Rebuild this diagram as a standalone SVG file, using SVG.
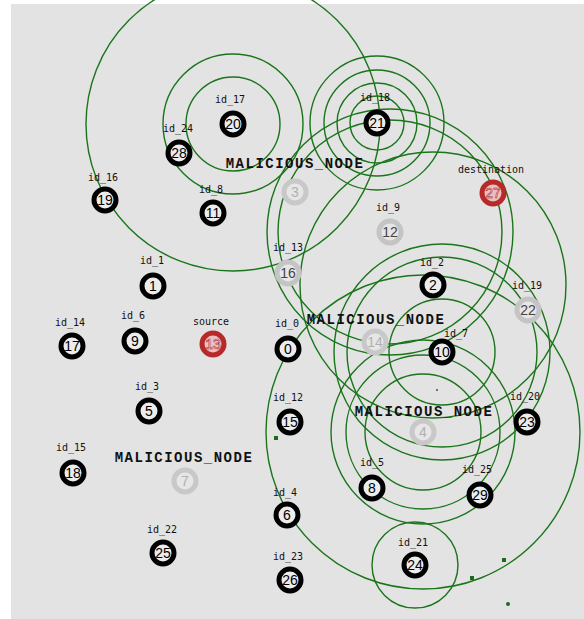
<svg xmlns="http://www.w3.org/2000/svg" width="584" height="619" viewBox="0 0 584 619">
<defs>
<style>
.bg{fill:#e3e3e3}
.rng{fill:none;stroke:#1a751a;stroke-width:1.4}
.pk{fill:#1d6a1d}
.n circle{fill:#ececec;stroke:#000;stroke-width:5}
.n text.v{font-family:"Liberation Sans",Arial,sans-serif;font-size:14px;fill:#000;text-anchor:middle}
.g circle{fill:#e6e6e6;stroke:#c4c4c4;stroke-width:5}
.g text.v{fill:#444}
.m circle{fill:#e6e6e6;stroke:#c8c8c8;stroke-width:5}
.m text.v{fill:#b0b0b0}
.r circle{fill:#e8c0c0;stroke:#b82a2a;stroke-width:5}
.r text.v{fill:#fbe8e8;stroke:#b82a2a;stroke-width:0.6}
.lb{font-family:"DejaVu Sans Mono",monospace;font-size:10px;fill:#111;text-anchor:middle}
.ml{font-family:"Liberation Mono",monospace;font-size:14px;font-weight:bold;letter-spacing:1.5px;fill:#111;text-anchor:middle}
</style>
</defs>
<rect x="0" y="0" width="584" height="619" fill="#ffffff"/>
<rect class="bg" x="11" y="4" width="573" height="615"/>

<g id="connectors">
<circle class="rng" cx="233" cy="124" r="47"/>
<circle class="rng" cx="233" cy="124" r="70"/>
<circle class="rng" cx="233" cy="124" r="147"/>
<circle class="rng" cx="377" cy="123" r="27"/>
<circle class="rng" cx="377" cy="123" r="40"/>
<circle class="rng" cx="377" cy="123" r="53"/>
<circle class="rng" cx="377" cy="123" r="67"/>
<circle class="rng" cx="390" cy="232" r="112"/>
<circle class="rng" cx="390" cy="232" r="123"/>
<circle class="rng" cx="433" cy="285" r="133"/>
<circle class="rng" cx="442" cy="352" r="53"/>
<circle class="rng" cx="442" cy="352" r="95"/>
<circle class="rng" cx="442" cy="352" r="108"/>
<circle class="rng" cx="423" cy="432" r="58"/>
<circle class="rng" cx="423" cy="432" r="77"/>
<circle class="rng" cx="423" cy="432" r="92"/>
<circle class="rng" cx="423" cy="432" r="157"/>
<circle class="rng" cx="415" cy="565" r="43"/>
<rect class="pk" x="274" y="436" width="4" height="4"/>
<rect class="pk" x="470" y="576" width="4" height="4"/>
<rect class="pk" x="502" y="558" width="4" height="4"/>
<circle class="pk" cx="508" cy="604" r="2"/>
<circle class="pk" cx="437" cy="390" r="1"/>
</g>

<g id="node0" class="n"><text class="lb" x="287" y="327">id_0</text><circle cx="288" cy="349" r="11"/><text class="v" x="288" y="354">0</text></g>
<g id="node1" class="n"><text class="lb" x="152" y="264">id_1</text><circle cx="153" cy="286" r="11"/><text class="v" x="153" y="291">1</text></g>
<g id="node2" class="n"><text class="lb" x="432" y="266">id_2</text><circle cx="433" cy="285" r="11"/><text class="v" x="433" y="290">2</text></g>
<g id="node3" class="n m"><text class="ml" x="295" y="168">MALICIOUS_NODE</text><circle cx="295" cy="192" r="11"/><text class="v" x="295" y="197">3</text></g>
<g id="node4" class="n m"><circle cx="423" cy="432" r="11"/><text class="v" x="423" y="437">4</text><text class="ml" x="424" y="416">MALICIOUS_NODE</text></g>
<g id="node5" class="n"><text class="lb" x="147" y="390">id_3</text><circle cx="149" cy="411" r="11"/><text class="v" x="149" y="416">5</text></g>
<g id="node6" class="n"><text class="lb" x="285" y="496">id_4</text><circle cx="287" cy="515" r="11"/><text class="v" x="287" y="520">6</text></g>
<g id="node7" class="n m"><text class="ml" x="184" y="462">MALICIOUS_NODE</text><circle cx="185" cy="481" r="11"/><text class="v" x="185" y="486">7</text></g>
<g id="node8" class="n"><text class="lb" x="372" y="466">id_5</text><circle cx="372" cy="488" r="11"/><text class="v" x="372" y="493">8</text></g>
<g id="node9" class="n"><text class="lb" x="133" y="319">id_6</text><circle cx="135" cy="341" r="11"/><text class="v" x="135" y="346">9</text></g>
<g id="node10" class="n"><text class="lb" x="456" y="337">id_7</text><circle cx="442" cy="352" r="11"/><text class="v" x="442" y="357">10</text></g>
<g id="node11" class="n"><text class="lb" x="211" y="193">id_8</text><circle cx="213" cy="213" r="11"/><text class="v" x="213" y="218">11</text></g>
<g id="node12" class="n g"><text class="lb" x="388" y="211">id_9</text><circle cx="390" cy="232" r="11"/><text class="v" x="390" y="237">12</text></g>
<g id="node13" class="n r"><text class="lb" x="211" y="325">source</text><circle cx="213" cy="344" r="11"/><text class="v" x="213" y="349">13</text></g>
<g id="node14" class="n m"><circle cx="375" cy="342" r="11"/><text class="v" x="375" y="347">14</text><text class="ml" x="376" y="324">MALICIOUS_NODE</text></g>
<g id="node15" class="n"><text class="lb" x="288" y="401">id_12</text><circle cx="290" cy="422" r="11"/><text class="v" x="290" y="427">15</text></g>
<g id="node16" class="n g"><text class="lb" x="288" y="251">id_13</text><circle cx="288" cy="273" r="11"/><text class="v" x="288" y="278">16</text></g>
<g id="node17" class="n"><text class="lb" x="70" y="326">id_14</text><circle cx="72" cy="346" r="11"/><text class="v" x="72" y="351">17</text></g>
<g id="node18" class="n"><text class="lb" x="71" y="451">id_15</text><circle cx="73" cy="473" r="11"/><text class="v" x="73" y="478">18</text></g>
<g id="node19" class="n"><text class="lb" x="103" y="181">id_16</text><circle cx="105" cy="200" r="11"/><text class="v" x="105" y="205">19</text></g>
<g id="node20" class="n"><text class="lb" x="230" y="103">id_17</text><circle cx="233" cy="124" r="11"/><text class="v" x="233" y="129">20</text></g>
<g id="node21" class="n"><text class="lb" x="375" y="101">id_18</text><circle cx="377" cy="123" r="11"/><text class="v" x="377" y="128">21</text></g>
<g id="node22" class="n g"><text class="lb" x="527" y="289">id_19</text><circle cx="528" cy="310" r="11"/><text class="v" x="528" y="315">22</text></g>
<g id="node23" class="n"><text class="lb" x="525" y="400">id_20</text><circle cx="527" cy="422" r="11"/><text class="v" x="527" y="427">23</text></g>
<g id="node24" class="n"><text class="lb" x="413" y="546">id_21</text><circle cx="415" cy="565" r="11"/><text class="v" x="415" y="570">24</text></g>
<g id="node25" class="n"><text class="lb" x="162" y="533">id_22</text><circle cx="163" cy="553" r="11"/><text class="v" x="163" y="558">25</text></g>
<g id="node26" class="n"><text class="lb" x="288" y="560">id_23</text><circle cx="290" cy="580" r="11"/><text class="v" x="290" y="585">26</text></g>
<g id="node27" class="n r"><text class="lb" x="491" y="173">destination</text><circle cx="493" cy="193" r="11"/><text class="v" x="493" y="198">27</text></g>
<g id="node28" class="n"><text class="lb" x="178" y="132">id_24</text><circle cx="179" cy="153" r="11"/><text class="v" x="179" y="158">28</text></g>
<g id="node29" class="n"><text class="lb" x="477" y="473">id_25</text><circle cx="480" cy="495" r="11"/><text class="v" x="480" y="500">29</text></g>
</svg>
